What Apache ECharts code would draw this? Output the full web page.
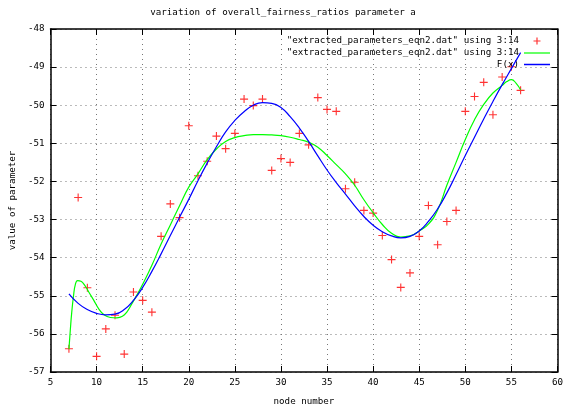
<!DOCTYPE html>
<html>
<head>
<meta charset="utf-8">
<script src="https://cdn.jsdelivr.net/npm/echarts@6/dist/echarts.min.js"></script>
<style>
html,body{margin:0;padding:0;background:#fff;}
#chart{width:566px;height:412px;}
</style>
</head>
<body>
<div id="chart"></div>
<script>
// ---- data ----
const nodeNumbers = [7,8,9,10,11,12,13,14,15,16,17,18,19,20,21,22,23,24,25,26,27,28,29,30,31,32,33,34,35,36,37,38,39,40,41,42,43,44,45,46,47,48,49,50,51,52,53,54,55,56];
const paramValues = [-56.39,-52.42,-54.79,-56.59,-55.87,-55.51,-56.53,-54.90,-55.12,-55.43,-53.44,-52.59,-52.95,-50.54,-51.85,-51.47,-50.81,-51.14,-50.74,-49.84,-50.01,-49.84,-51.71,-51.40,-51.50,-50.74,-51.04,-49.80,-50.11,-50.16,-52.19,-52.02,-52.76,-52.83,-53.42,-54.05,-54.78,-54.40,-53.44,-52.63,-53.66,-53.05,-52.76,-50.16,-49.77,-49.40,-50.25,-49.26,-48.99,-49.61];

const smoothX = [7,7.15,7.3,7.5,7.7,7.95,8.3,8.7,9.2,9.7,10.2,10.8,11.5,12.2,12.8,13.3,13.8,14.4,15,16,17,18,19,20,21,22,23,24,25,26,27,28,29,30,31,32,33,34,35,36,37,38,39,40,41,42,43,44,45,46,47,48,49,50,51,52,53,54,54.5,55,55.5,56];
const smoothY = [-56.4,-55.9,-55.45,-55.0,-54.7,-54.6,-54.62,-54.72,-54.92,-55.12,-55.33,-55.5,-55.57,-55.58,-55.54,-55.42,-55.22,-54.97,-54.7,-54.2,-53.64,-53.14,-52.64,-52.15,-51.8,-51.43,-51.15,-50.95,-50.85,-50.8,-50.77,-50.77,-50.78,-50.8,-50.84,-50.9,-50.97,-51.1,-51.32,-51.56,-51.8,-52.1,-52.48,-52.82,-53.13,-53.36,-53.46,-53.43,-53.3,-53.12,-52.75,-52.1,-51.5,-50.9,-50.38,-49.98,-49.68,-49.48,-49.38,-49.33,-49.42,-49.6];

const fitX = [7,8,9,10,11,12,13,14,15,16,17,18,19,20,21,22,23,24,25,26,27,28,29,30,31,32,33,34,35,36,37,38,39,40,41,42,43,44,45,46,47,48,49,50,51,52,53,54,55,56];
const fitY = [-54.95,-55.2,-55.36,-55.46,-55.5,-55.48,-55.36,-55.12,-54.78,-54.36,-53.9,-53.42,-52.94,-52.47,-51.98,-51.52,-51.09,-50.7,-50.4,-50.17,-50.0,-49.93,-49.95,-50.06,-50.3,-50.6,-50.95,-51.33,-51.7,-52.03,-52.33,-52.64,-52.92,-53.15,-53.32,-53.43,-53.48,-53.44,-53.3,-53.05,-52.72,-52.3,-51.82,-51.32,-50.84,-50.36,-49.9,-49.46,-49.04,-48.62];

const titleText = 'variation of overall_fairness_ratios parameter a';
const seriesDataName = '"extracted_parameters_eqn2.dat" using 3:14';
const fitName = 'F(x)';
const xName = 'node number';
const yName = 'value of parameter';

// ---- chart ----
const FONT = 'DejaVu Sans Mono';
const FS = 9.2;
const plusPath = 'path://M4.3,0h1.4v4.3h4.3v1.4h-4.3v4.3h-1.4v-4.3h-4.3v-1.4h4.3z';
// same plus, centred in a 26x7 box so the legend sample sits mid-column
const plusLegendPath = 'path://M0,3.5h0.01v0.01h-0.01z M25.99,3.5h0.01v0.01h-0.01z M12.4,0h1.2v2.9h2.9v1.2h-2.9v2.9h-1.2v-2.9h-2.9v-1.2h2.9z';

const pts = nodeNumbers.map((x, i) => [x, paramValues[i]]);
const green = smoothX.map((x, i) => [x, smoothY[i]]);
const blue = fitX.map((x, i) => [x, fitY[i]]);

const gridLine = {show: true, lineStyle: {color: '#777', width: 1, type: [1, 4]}};
const frameLine = {show: true, onZero: false, lineStyle: {color: '#000', width: 1.5}};
const tick = {show: true, inside: true, length: 6, lineStyle: {color: '#000', width: 1}};
const lbl = {color: '#000', fontFamily: FONT, fontSize: FS};

function legendRow(top, item, iw, ih) {
  return {
    show: true, right: 16, top: top, orient: 'vertical', align: 'right',
    padding: 0, itemGap: 0, itemWidth: iw, itemHeight: ih,
    selectedMode: false,
    textStyle: {color: '#000', fontFamily: FONT, fontSize: FS},
    data: [item]
  };
}

const chart = echarts.init(document.getElementById('chart'), null, {renderer: 'canvas'});
chart.setOption({
  animation: false,
  backgroundColor: '#fff',
  title: {
    text: titleText, left: 'center', top: 3,
    textStyle: {color: '#000', fontFamily: FONT, fontSize: FS, fontWeight: 'normal'}
  },
  legend: [
    legendRow(36.5, {name: seriesDataName, icon: plusLegendPath}, 26, 7),
    legendRow(48.5, {name: seriesDataName, icon: 'rect', itemStyle: {color: '#00ff00'}}, 26, 1.5),
    legendRow(60, {name: fitName, icon: 'rect', itemStyle: {color: '#0000ff'}}, 26, 1.5)
  ],
  grid: {left: 49, right: 4, top: 29, bottom: 40, containLabel: false},
  xAxis: [
    {
      type: 'value', min: 5, max: 60, interval: 5, position: 'bottom',
      name: xName, nameLocation: 'middle', nameGap: 25,
      nameTextStyle: {color: '#000', fontFamily: FONT, fontSize: FS},
      axisLine: frameLine, axisTick: tick,
      axisLabel: Object.assign({margin: 6}, lbl),
      splitLine: gridLine
    },
    {
      type: 'value', min: 5, max: 60, interval: 5, position: 'top',
      axisLine: frameLine, axisTick: tick,
      axisLabel: {show: false}, splitLine: {show: false}
    }
  ],
  yAxis: [
    {
      type: 'value', min: -57, max: -48, interval: 1, position: 'left',
      name: yName, nameLocation: 'middle', nameGap: 31, nameRotate: 90,
      nameTextStyle: {color: '#000', fontFamily: FONT, fontSize: FS},
      axisLine: frameLine, axisTick: tick,
      axisLabel: Object.assign({margin: 6}, lbl),
      splitLine: gridLine
    },
    {
      type: 'value', min: -57, max: -48, interval: 1, position: 'right',
      axisLine: frameLine, axisTick: tick,
      axisLabel: {show: false}, splitLine: {show: false}
    }
  ],
  series: [
    {
      name: seriesDataName, type: 'scatter', xAxisIndex: 0, yAxisIndex: 0,
      symbol: plusPath, symbolSize: 8,
      itemStyle: {color: '#ff0000'},
      data: pts, z: 3
    },
    {
      name: seriesDataName, type: 'line', xAxisIndex: 0, yAxisIndex: 0,
      showSymbol: false, symbol: 'none', smooth: true,
      lineStyle: {color: '#00ff00', width: 1.2},
      itemStyle: {color: '#00ff00'},
      data: green, z: 4
    },
    {
      name: fitName, type: 'line', xAxisIndex: 0, yAxisIndex: 0,
      showSymbol: false, symbol: 'none', smooth: true,
      lineStyle: {color: '#0000ff', width: 1.2},
      itemStyle: {color: '#0000ff'},
      data: blue, z: 5
    }
  ]
});
</script>
</body>
</html>
